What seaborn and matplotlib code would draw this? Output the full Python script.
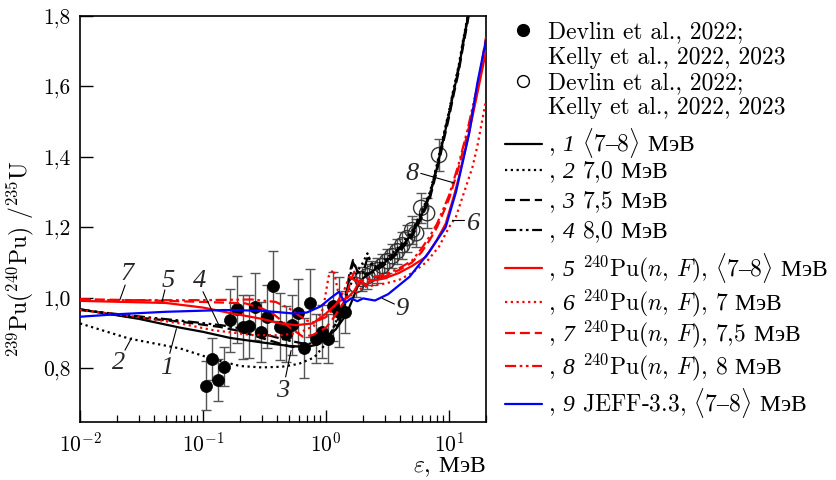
import matplotlib
matplotlib.use("Agg")
import matplotlib.pyplot as plt
import seaborn as sns
import pandas as pd
from matplotlib.lines import Line2D
from matplotlib.legend import Legend
from matplotlib.ticker import FixedLocator, FixedFormatter, LogLocator, NullFormatter

# ---------------- data ----------------
# filled points (Devlin et al., 2022; Kelly et al., 2022, 2023)
E_fill = [0.105, 0.118, 0.132, 0.148, 0.167, 0.189, 0.211, 0.235, 0.263, 0.298, 0.330, 0.370,
          0.419, 0.469, 0.527, 0.589, 0.668, 0.743, 0.831, 0.929, 1.03, 1.15, 1.28, 1.44]
V_fill = [0.750, 0.826, 0.766, 0.804, 0.936, 0.967, 0.917, 0.919, 0.974, 0.903, 0.946, 1.033,
          0.917, 0.896, 0.922, 0.957, 0.856, 0.984, 0.884, 0.903, 0.884, 0.976, 0.960, 0.960]
Err_fill = [0.07, 0.06, 0.06, 0.055, 0.09, 0.095, 0.09, 0.09, 0.095, 0.085, 0.09, 0.10,
            0.095, 0.08, 0.085, 0.095, 0.085, 0.097, 0.07, 0.075, 0.07, 0.098, 0.10, 0.06]

# open points
E_open = [1.76, 1.97, 2.17, 2.38, 2.61, 2.87, 3.15, 3.45, 3.79, 4.17, 4.57, 5.02, 5.41, 5.94, 6.64, 8.31]
V_open = [1.036, 1.053, 1.061, 1.070, 1.078, 1.090, 1.104, 1.118, 1.132, 1.149, 1.169, 1.192,
          1.183, 1.255, 1.240, 1.405]
Err_open = [0.035, 0.035, 0.035, 0.035, 0.035, 0.035, 0.035, 0.035, 0.035, 0.038, 0.038, 0.04,
            0.04, 0.042, 0.042, 0.045]

# calculated curves
E1 = [0.01, 0.03, 0.065, 0.1, 0.165, 0.3, 0.5, 0.7, 0.85, 1.0, 1.2, 1.45, 1.6, 1.8, 2.0, 2.5, 3.0,
      3.5, 4.0, 5.0, 6.0, 7.0, 8.0, 9.0, 10, 11, 12, 13, 14, 15, 17, 20]
V1 = [0.967, 0.94, 0.915, 0.903, 0.886, 0.873, 0.863, 0.86, 0.867, 0.885, 0.91, 0.95, 0.985, 1.03,
      1.055, 1.08, 1.10, 1.12, 1.14, 1.18, 1.235, 1.29, 1.37, 1.45, 1.52, 1.59, 1.65, 1.72, 1.78,
      1.84, 1.96, 2.15]

E2 = [0.01, 0.025, 0.065, 0.12, 0.2, 0.3, 0.44, 0.6, 0.8, 1.0, 1.2, 1.4, 1.6, 1.8, 2.0, 2.17, 2.35,
      2.5, 3.0, 3.5, 4.0, 5.0, 6.0, 7.0, 8.0, 9.0, 10, 11, 12, 13, 14, 15, 17, 20]
V2 = [0.927, 0.884, 0.856, 0.826, 0.806, 0.802, 0.804, 0.812, 0.83, 0.87, 0.93, 0.99, 1.04, 1.075,
      1.10, 1.126, 1.09, 1.088, 1.108, 1.128, 1.148, 1.19, 1.245, 1.30, 1.38, 1.46, 1.53, 1.60,
      1.66, 1.73, 1.79, 1.85, 1.97, 2.16]

E3 = [0.01, 0.025, 0.065, 0.137, 0.2, 0.31, 0.5, 0.65, 0.88, 1.0, 1.28, 1.45, 1.55, 1.66, 1.8, 2.0,
      2.5, 3.0, 3.5, 4.0, 5.0, 6.0, 7.0, 8.0, 9.0, 10, 11, 12, 13, 14, 15, 17, 20]
V3 = [0.967, 0.946, 0.932, 0.917, 0.905, 0.884, 0.862, 0.856, 0.87, 0.885, 0.927, 0.99, 1.07, 1.107,
      1.075, 1.065, 1.074, 1.094, 1.114, 1.133, 1.173, 1.228, 1.282, 1.362, 1.442, 1.512, 1.582,
      1.642, 1.712, 1.772, 1.832, 1.95, 2.14]

E4 = [0.01, 0.03, 0.065, 0.14, 0.2, 0.3, 0.5, 0.7, 0.9, 1.1, 1.3, 1.5, 1.66, 1.8, 2.0, 2.2, 2.4,
      2.5, 3.0, 3.5, 4.0, 5.0, 6.0, 7.0, 8.0, 9.0, 10, 11, 12, 13, 14, 15, 17, 20]
V4 = [0.965, 0.947, 0.935, 0.922, 0.913, 0.898, 0.878, 0.868, 0.875, 0.9, 0.95, 1.03, 1.10, 1.075,
      1.07, 1.12, 1.09, 1.084, 1.104, 1.124, 1.144, 1.185, 1.24, 1.295, 1.375, 1.455, 1.525, 1.595,
      1.655, 1.725, 1.785, 1.845, 1.965, 2.155]

E5 = [0.01, 0.05, 0.1, 0.175, 0.3, 0.42, 0.57, 0.78, 1.0, 1.28, 1.5, 1.7, 1.9, 2.1, 2.3, 2.55, 3.0,
      3.9, 5.0, 6.5, 8.0, 9.4, 11, 12, 14.6, 17, 20]
V5 = [0.991, 0.985, 0.972, 0.955, 0.94, 0.927, 0.922, 0.927, 0.955, 0.99, 1.0, 1.02, 1.05, 1.035,
      1.05, 1.05, 1.055, 1.07, 1.09, 1.116, 1.165, 1.21, 1.29, 1.34, 1.47, 1.58, 1.70]

E6 = [0.01, 0.03, 0.065, 0.12, 0.25, 0.42, 0.6, 0.8, 0.95, 1.05, 1.15, 1.25, 1.5, 2.0, 3.0, 3.9,
      5.0, 6.5, 8.3, 10, 11.4, 13, 15.5, 17, 20]
V6 = [0.965, 0.945, 0.927, 0.908, 0.894, 0.893, 0.9, 0.92, 0.97, 1.06, 1.08, 1.02, 1.0, 1.03, 1.04,
      1.05, 1.07, 1.1, 1.145, 1.2, 1.23, 1.29, 1.37, 1.43, 1.561]

E7 = [0.01, 0.05, 0.1, 0.22, 0.3, 0.37, 0.5, 0.65, 0.78, 1.0, 1.17, 1.4, 1.6, 1.7, 1.85, 2.0, 2.5,
      3.0, 4.0, 5.0, 6.0, 7.0, 8.0, 10, 12, 14, 17, 20]
V7 = [0.996, 0.991, 0.988, 0.984, 0.97, 0.955, 0.917, 0.889, 0.894, 0.915, 0.946, 0.988, 1.05,
      1.074, 1.04, 1.04, 1.05, 1.06, 1.08, 1.10, 1.13, 1.165, 1.2, 1.28, 1.37, 1.46, 1.59, 1.74]

E8 = [0.01, 0.1, 0.25, 0.39, 0.5, 0.6, 0.7, 0.8, 1.0, 1.2, 1.4, 1.55, 1.7, 2.0, 2.5, 3.0, 4.0, 5.0,
      6.0, 7.0, 8.0, 10, 12, 14, 17, 20]
V8 = [0.993, 0.993, 0.995, 0.988, 0.97, 0.95, 0.935, 0.93, 0.945, 0.98, 1.02, 1.06, 1.05, 1.05,
      1.06, 1.065, 1.085, 1.105, 1.14, 1.175, 1.21, 1.29, 1.38, 1.47, 1.60, 1.72]

E9 = [0.01, 0.02, 0.05, 0.15, 0.3, 0.55, 0.7, 0.9, 1.1, 1.28, 1.42, 1.6, 1.8, 2.0, 2.5, 3.2, 4.8,
      6.9, 9.4, 11.4, 14.6, 17, 20]
V9 = [0.946, 0.953, 0.96, 0.965, 0.963, 0.955, 0.958, 0.975, 1.0, 1.017, 0.985, 0.998, 0.99, 0.998,
      0.992, 1.01, 1.06, 1.13, 1.2, 1.3, 1.467, 1.609, 1.732]

MEV = r"$\mathtt{МэВ}$"
RNG = r"$\langle$7$\mathtt{–}$8$\rangle$"
data_line1 = "Devlin et al., 2022;"
data_line2 = "Kelly et al., 2022, 2023"
curve_labels = [
    r", $\mathsf{1}$ " + RNG + " " + MEV,
    r", $\mathsf{2}$ 7,0 " + MEV,
    r", $\mathsf{3}$ 7,5 " + MEV,
    r", $\mathsf{4}$ 8,0 " + MEV,
    r", $\mathsf{5}$ $^{240}$Pu($n$, $F$), " + RNG + " " + MEV,
    r", $\mathsf{6}$ $^{240}$Pu($n$, $F$), 7 " + MEV,
    r", $\mathsf{7}$ $^{240}$Pu($n$, $F$), 7,5 " + MEV,
    r", $\mathsf{8}$ $^{240}$Pu($n$, $F$), 8 " + MEV,
    r", $\mathsf{9}$ JEFF-3.3, " + RNG + " " + MEV,
]
y_ticks = [0.8, 1.0, 1.2, 1.4, 1.6, 1.8]
y_tick_labels = ["0,8", "1,0", "1,2", "1,4", "1,6", "1,8"]

# curve number labels: (text, E, V, pointer from E, V, to E, V)
num_labels = [
    ("7", 0.0247, 1.069, 0.0233, 1.036, 0.0211, 0.994),
    ("5", 0.052, 1.050, 0.049, 1.022, 0.0465, 0.990),
    ("4", 0.094, 1.050, 0.100, 1.017, 0.136, 0.919),
    ("2", 0.0204, 0.818, 0.0232, 0.851, 0.0263, 0.886),
    ("1", 0.0504, 0.804, 0.0537, 0.842, 0.0608, 0.912),
    ("3", 0.446, 0.738, 0.47, 0.775, 0.52, 0.850),
    ("8", 5.02, 1.353, 5.9, 1.353, 11.0, 1.326),
    ("6", 15.7, 1.213, 10.5, 1.222, 13.2, 1.222),
    ("9", 4.19, 0.970, 3.6, 0.982, 2.87, 0.998),
]

# ---------------- style ----------------
sns.set_theme(style="white")
plt.rcParams["font.family"] = ["cmr10", "DejaVu Serif"]
plt.rcParams["mathtext.fontset"] = "custom"
plt.rcParams["mathtext.rm"] = "cmr10"
plt.rcParams["mathtext.it"] = "cmmi10"
plt.rcParams["mathtext.bf"] = "cmb10"
plt.rcParams["mathtext.sf"] = "Liberation Serif:italic"
plt.rcParams["mathtext.tt"] = "Liberation Serif"
plt.rcParams["mathtext.fallback"] = "cm"
plt.rcParams["axes.formatter.use_mathtext"] = True
plt.rcParams["axes.unicode_minus"] = True

fig = plt.figure(figsize=(8.36, 4.8), dpi=100)
ax = fig.add_axes([80 / 836, 58 / 480, 406 / 836, 406 / 480])

K, R, B = "black", "red", "blue"
dotted = (0, (1, 1.6))
dashed = (0, (4.5, 2.2))
dashdot = (0, (5, 1.6, 1.2, 1.6, 1.2, 1.6))
curves = [
    (E1, V1, K, "-"), (E2, V2, K, dotted), (E3, V3, K, dashed), (E4, V4, K, dashdot),
    (E5, V5, R, "-"), (E6, V6, R, dotted), (E7, V7, R, dashed), (E8, V8, R, dashdot),
    (E9, V9, B, "-"),
]

handles = []
ax.errorbar(E_fill, V_fill, yerr=Err_fill, fmt="none", ecolor="#555555", elinewidth=1.0,
            capsize=3.8, capthick=1.0, zorder=2)
ax.errorbar(E_open, V_open, yerr=Err_open, fmt="none", ecolor="#555555", elinewidth=1.0,
            capsize=3.8, capthick=1.0, zorder=2)
sns.scatterplot(x=E_fill, y=V_fill, ax=ax, color="black", s=75, edgecolor="black",
                linewidth=0.5, zorder=3)
sns.scatterplot(x=E_open, y=V_open, ax=ax, facecolor="none", s=120, edgecolor="#333333",
                linewidth=1.0, zorder=3)
h_fill = Line2D([], [], ls="none", marker="o", ms=8.5, color="black")
h_open = Line2D([], [], ls="none", marker="o", ms=8.5, mfc="white", mec="black", mew=1.0)
h_none = Line2D([], [], ls="none", color="none")

for E, V, c, ls in curves:
    df = pd.DataFrame({"E": E, "V": V})
    sns.lineplot(data=df, x="E", y="V", ax=ax, color=c, linestyle=ls, lw=1.6,
                 estimator=None, sort=False, zorder=4)
    handles.append(Line2D([], [], color=c, linestyle=ls, lw=1.6))

for t, xe, ye, x0, y0, x1, y1 in num_labels:
    ax.text(xe, ye, r"$\mathsf{%s}$" % t, fontsize=19, ha="center", va="center", zorder=6)
    ax.plot([x0, x1], [y0, y1], color="black", lw=0.8, zorder=6)

ax.set_xscale("log")
ax.set_xlim(0.01, 20)
ax.set_ylim(0.647, 1.8)
ax.yaxis.set_major_locator(FixedLocator(y_ticks))
ax.yaxis.set_major_formatter(FixedFormatter(y_tick_labels))
ax.xaxis.set_major_locator(LogLocator(base=10, numticks=10))
ax.xaxis.set_minor_locator(LogLocator(base=10, subs=range(2, 10), numticks=20))
ax.xaxis.set_minor_formatter(NullFormatter())
ax.tick_params(axis="both", which="major", direction="in", length=9, width=1.0,
               labelsize=15.5, colors="black", bottom=True, left=True, top=False, right=False, pad=7)
ax.tick_params(axis="x", which="minor", direction="in", length=5, width=0.9, bottom=True,
               top=False, colors="black")
for sp in ax.spines.values():
    sp.set_color("black")
    sp.set_linewidth(1.2)

ax.set_xlabel(r"$\varepsilon$, " + MEV, fontsize=17, color="black")
ax.xaxis.set_label_coords(1.0, -0.083)
ax.xaxis.label.set_horizontalalignment("right")
ax.set_ylabel(r"$^{239}$Pu($^{240}$Pu) /$^{235}$U", fontsize=17, color="black")
ax.yaxis.set_label_coords(-0.108, 0.40)

# legend: one row per entry so that the row positions follow the reference
entries = ([(h_fill, data_line1), (h_none, data_line2), (h_open, data_line1), (h_none, data_line2)]
           + list(zip(handles, curve_labels)))
row_px = [32, 58, 83, 108, 143, 172, 202, 232, 268, 303, 334, 367, 403]
ax_h = 406.0
ax_bottom_px = 422.0
for (h, lab), ypx in zip(entries, row_px):
    lg = Legend(ax, [h], [lab], loc="center left",
                bbox_to_anchor=(1.047, (ax_bottom_px - ypx) / ax_h),
                frameon=False, fontsize=17, handlelength=1.55, handletextpad=0.25,
                borderaxespad=0, borderpad=0)
    for txt in lg.get_texts():
        txt.set_color("black")
    ax.add_artist(lg)

fig.savefig("out.png", dpi=100)
